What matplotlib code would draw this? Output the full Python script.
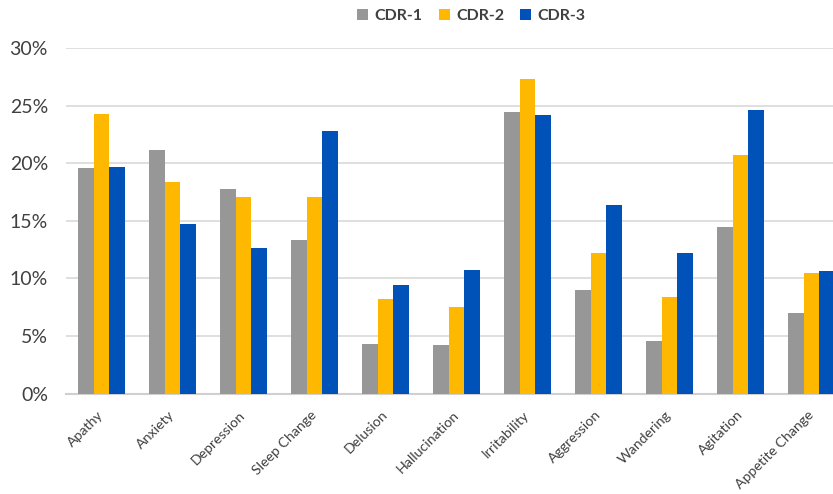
import matplotlib
matplotlib.use("Agg")
import matplotlib.pyplot as plt
import numpy as np
from matplotlib.ticker import PercentFormatter, MultipleLocator
from matplotlib.patches import Patch

categories = ["Apathy", "Anxiety", "Depression", "Sleep Change", "Delusion",
              "Hallucination", "Irritability", "Aggression", "Wandering",
              "Agitation", "Appetite Change"]
cdr1 = [19.6, 21.1, 17.8, 13.3, 4.3, 4.2, 24.4, 9.0, 4.6, 14.5, 7.0]
cdr2 = [24.3, 18.4, 17.1, 17.1, 8.2, 7.5, 27.3, 12.2, 8.4, 20.7, 10.5]
cdr3 = [19.7, 14.7, 12.6, 22.8, 9.4, 10.7, 24.2, 16.4, 12.2, 24.6, 10.6]
series_names = ["CDR-1", "CDR-2", "CDR-3"]
colors = ["#979797", "#FFB800", "#0052B9"]

plt.rcParams['font.family'] = ['Lato', 'DejaVu Sans']

fig = plt.figure(figsize=(8.33, 4.94), dpi=100)
ax = fig.add_axes([66/833, 100.5/494, 781/833, 345.5/494])

x = np.arange(len(categories))
w = 0.22
for i, (vals, c) in enumerate(zip([cdr1, cdr2, cdr3], colors)):
    ax.bar(x + (i - 1) * w, [v / 100 for v in vals], width=w, color=c, zorder=3)

ax.set_xlim(-0.5, len(categories) - 0.5)
ax.set_ylim(0, 0.30)
ax.yaxis.set_major_locator(MultipleLocator(0.05))
ax.yaxis.set_major_formatter(PercentFormatter(1.0, decimals=0))
ax.grid(axis='y', color='#d9d9d9', linewidth=1.2, zorder=0)
for s in ['top', 'right', 'left']:
    ax.spines[s].set_visible(False)
ax.spines['bottom'].set_color('#d0d0d0')
ax.spines['bottom'].set_linewidth(1.5)
ax.tick_params(axis='both', length=0, colors='#404040')
ax.tick_params(axis='y', labelsize=14, pad=13)
ax.set_xticks(x)
ax.set_xticklabels(categories, rotation=45, ha='right', va='center',
                   rotation_mode='anchor', fontsize=10.2, color='#404040')
ax.tick_params(axis='x', pad=14)

handles = [Patch(facecolor=c, label=n) for c, n in zip(colors, series_names)]
leg = fig.legend(handles=handles, loc='center', bbox_to_anchor=(0.566, 0.968), ncol=3,
                 frameon=False, handlelength=0.7, handleheight=0.7, handletextpad=0.4,
                 columnspacing=1.0, prop={'weight': 'bold', 'size': 11.5})
for t in leg.get_texts():
    t.set_color('#404040')

fig.savefig("out.png", dpi=100)
